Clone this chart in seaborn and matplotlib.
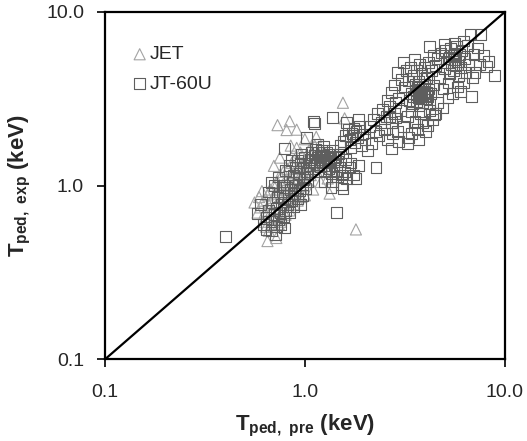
import numpy as np
import pandas as pd
import matplotlib
matplotlib.use('Agg')
import matplotlib.pyplot as plt
from matplotlib.ticker import NullLocator
import seaborn as sns

# (T_ped,pre, T_ped,exp) in keV
jet_points = [
    (0.60, 0.75), (0.62, 0.82), (0.63, 0.70), (0.65, 0.88), (0.66, 0.78),
    (0.67, 0.95), (0.68, 0.72), (0.69, 0.85), (0.70, 1.00), (0.70, 0.66),
    (0.71, 0.90), (0.72, 0.78), (0.73, 1.05), (0.74, 0.95), (0.75, 0.85),
    (0.75, 1.15), (0.76, 0.70), (0.77, 1.00), (0.78, 0.90), (0.78, 1.20),
    (0.79, 0.80), (0.80, 1.08), (0.81, 0.95), (0.82, 1.25), (0.83, 0.85),
    (0.84, 1.10), (0.85, 1.00), (0.86, 1.35), (0.87, 0.90), (0.88, 1.18),
    (0.89, 1.05), (0.90, 1.45), (0.91, 0.95), (0.92, 1.25), (0.93, 1.10),
    (0.95, 1.55), (0.96, 1.00), (0.97, 1.30), (0.98, 1.15), (1.00, 1.40),
    (1.02, 1.05), (1.04, 1.25), (1.05, 1.60), (1.07, 1.15), (1.10, 1.35),
    (1.12, 1.70), (1.15, 1.20), (1.18, 1.45), (1.22, 1.30), (1.25, 1.55),
    (0.62, 0.62), (0.64, 0.58), (0.66, 0.55), (0.68, 0.60), (0.70, 0.58),
    (0.72, 0.64), (0.74, 0.60), (0.76, 0.62), (0.80, 0.68), (0.84, 0.72),
    (0.88, 0.78), (0.92, 0.82), (0.96, 0.86), (1.00, 0.88), (0.58, 0.70),
    (0.56, 0.80), (0.59, 0.86), (0.61, 0.93), (0.65, 0.48), (0.72, 0.50),
    (0.73, 2.23), (0.84, 2.35), (0.81, 2.09), (0.91, 2.10), (1.55, 3.00),
    (1.80, 0.56), (1.33, 0.90), (0.91, 1.65), (1.14, 1.91), (1.58, 2.44),
    (1.00, 1.85), (0.70, 1.30), (0.75, 1.45), (0.85, 1.70), (1.20, 1.05),
    (1.10, 0.95), (1.40, 1.20), (1.30, 1.10),
]

jt60u_points = [
    # low-temperature band
    (0.58, 0.69), (0.62, 0.60), (0.60, 0.78), (0.64, 0.66), (0.66, 0.72),
    (0.68, 0.62), (0.69, 0.80), (0.70, 0.68), (0.72, 0.58), (0.72, 0.74),
    (0.73, 0.86), (0.74, 0.64), (0.75, 0.70), (0.76, 0.78), (0.77, 0.92),
    (0.78, 0.66), (0.79, 0.84), (0.80, 0.72), (0.81, 0.98), (0.82, 0.78),
    (0.83, 0.88), (0.84, 0.70), (0.85, 0.95), (0.86, 0.82), (0.87, 1.05),
    (0.88, 0.76), (0.89, 0.90), (0.90, 1.00), (0.92, 0.84), (0.93, 1.10),
    (0.94, 0.94), (0.95, 0.78), (0.97, 1.02), (0.98, 0.88), (1.00, 1.12),
    (1.01, 0.96), (1.03, 1.05), (0.66, 0.92), (0.70, 1.00), (0.74, 1.12),
    (0.68, 0.55), (0.64, 0.56), (0.76, 0.60), (0.79, 0.57), (0.71, 0.52),
    (0.68, 1.04), (0.78, 1.01), (0.40, 0.51),
    (0.88, 1.15), (0.90, 1.28), (0.92, 1.40), (0.94, 1.18), (0.96, 1.52),
    (0.99, 1.08), (1.03, 1.18), (0.86, 1.40), (0.80, 1.22), (0.84, 1.30),
    (0.79, 1.64), (1.02, 1.90), (1.10, 2.34), (1.12, 2.28), (1.38, 2.47),
    # dense group around 1.2 keV
    (1.05, 1.30), (1.07, 1.42), (1.08, 1.55), (1.10, 1.25), (1.11, 1.38),
    (1.12, 1.50), (1.13, 1.62), (1.14, 1.32), (1.15, 1.45), (1.16, 1.20),
    (1.17, 1.55), (1.18, 1.38), (1.19, 1.48), (1.20, 1.28), (1.21, 1.60),
    (1.22, 1.42), (1.23, 1.35), (1.24, 1.50), (1.25, 1.22), (1.26, 1.45),
    (1.27, 1.38), (1.28, 1.56), (1.29, 1.30), (1.30, 1.48), (1.31, 1.40),
    (1.32, 1.25), (1.33, 1.52), (1.34, 1.35), (1.35, 1.44), (1.36, 1.18),
    (1.38, 1.60), (1.40, 1.30), (1.42, 1.45), (1.44, 1.22), (1.46, 1.38),
    (1.48, 1.52), (1.50, 1.28), (1.52, 1.15), (1.24, 1.68), (1.16, 1.72),
    (1.02, 1.20), (0.98, 1.28), (1.00, 1.45), (0.95, 1.35),
    (1.38, 1.05), (1.45, 1.12), (1.52, 1.02), (1.58, 1.20), (1.62, 1.10),
    (1.68, 1.28), (1.75, 1.15), (1.80, 1.10), (1.55, 0.96), (1.25, 1.05),
    (1.35, 0.98), (2.27, 1.27), (1.44, 0.70), (1.85, 1.30), (1.70, 1.35),
    (1.60, 1.42), (1.55, 1.55),
    # group around 1.7 keV
    (1.55, 1.80), (1.60, 1.95), (1.65, 2.10), (1.68, 1.85), (1.72, 2.00),
    (1.74, 1.95), (1.76, 2.15), (1.78, 1.78), (1.80, 2.05), (1.84, 1.90),
    (1.88, 2.20), (1.92, 1.70), (1.95, 1.98), (2.00, 1.85), (1.62, 2.30),
    (1.70, 1.65), (1.85, 2.40), (2.05, 1.60), (1.50, 1.70),
    (2.10, 2.20), (2.20, 2.40), (2.25, 2.05), (2.30, 2.60), (2.40, 2.30),
    (2.45, 2.75), (2.50, 2.10), (2.55, 2.50), (2.60, 1.85), (2.65, 2.85),
    (2.70, 1.64), (2.72, 2.30), (2.80, 2.60), (2.85, 3.00), (2.35, 1.95),
    (2.15, 1.75), (2.90, 2.05),
    # dense group around 3.8 keV
    (3.35, 3.10), (3.40, 3.40), (3.45, 2.95), (3.50, 3.25), (3.55, 3.55),
    (3.60, 3.05), (3.62, 3.35), (3.65, 3.70), (3.68, 3.20), (3.70, 3.45),
    (3.72, 2.90), (3.75, 3.30), (3.78, 3.60), (3.80, 3.15), (3.82, 3.40),
    (3.85, 3.25), (3.88, 3.75), (3.90, 3.00), (3.92, 3.50), (3.95, 3.30),
    (3.98, 3.85), (4.00, 3.15), (4.05, 3.45), (4.10, 3.25), (4.15, 3.60),
    (4.20, 2.95), (4.25, 3.40), (3.58, 3.85),
    (2.60, 3.10), (2.70, 3.45), (2.75, 2.00), (2.80, 3.80), (2.85, 2.45),
    (2.90, 4.50), (2.95, 3.20), (3.00, 2.70), (3.05, 4.10), (3.10, 5.10),
    (3.12, 2.20), (3.15, 3.70), (3.20, 4.60), (3.25, 2.50), (3.30, 1.90),
    (3.30, 4.00), (3.38, 4.80), (3.42, 2.65), (3.48, 4.30), (3.52, 5.30),
    (3.55, 2.35), (3.60, 4.60), (3.65, 2.10), (3.70, 4.00), (3.75, 5.00),
    (3.80, 2.60), (3.85, 4.40), (3.90, 2.30), (3.95, 4.80), (4.00, 2.05),
    (4.05, 4.20), (4.10, 2.23), (4.15, 5.10), (4.20, 2.70), (4.30, 4.60),
    (4.35, 2.40), (4.40, 3.80), (4.45, 2.55), (4.50, 2.60), (3.25, 1.75),
    (2.95, 1.80), (3.70, 1.85), (3.40, 2.00), (2.65, 2.50), (4.19, 6.35),
    # high-temperature group
    (4.50, 4.90), (4.60, 5.40), (4.70, 4.20), (4.80, 5.80), (4.90, 3.60),
    (5.00, 4.70), (5.05, 6.00), (5.10, 5.10), (5.20, 3.90), (5.25, 5.50),
    (5.30, 4.40), (5.35, 6.20), (5.40, 5.00), (5.45, 3.40), (5.50, 5.60),
    (5.55, 4.60), (5.60, 5.30), (5.62, 5.80), (5.65, 4.90), (5.70, 5.50),
    (5.75, 6.30), (5.80, 3.70), (5.85, 5.20), (5.90, 4.30), (5.95, 5.70),
    (6.00, 4.80), (6.10, 6.00), (6.20, 3.90), (6.30, 5.40), (6.40, 4.50),
    (6.50, 6.40), (6.60, 5.00), (6.80, 3.25), (6.90, 4.20), (7.00, 5.70),
    (4.60, 3.00), (4.90, 2.80), (5.20, 3.20), (6.00, 3.50), (5.60, 6.60),
    (6.20, 6.80), (4.40, 5.60), (5.00, 6.50),
    (6.70, 7.40), (7.60, 7.40), (8.85, 4.30), (8.10, 4.85), (7.50, 5.00),
    (7.30, 6.20), (7.80, 5.60), (8.30, 5.20), (7.10, 4.50),
]

axis_ticks = [0.1, 1.0, 10.0]
tick_labels = ['0.1', '1.0', '10.0']

jet = pd.DataFrame(jet_points, columns=['pre', 'exp'])
jt60u = pd.DataFrame(jt60u_points, columns=['pre', 'exp'])

sns.set_style('ticks')
plt.rcParams['font.family'] = ['Liberation Sans', 'DejaVu Sans']
plt.rcParams['mathtext.fontset'] = 'custom'
plt.rcParams['mathtext.rm'] = 'Liberation Sans'
plt.rcParams['mathtext.bf'] = 'Liberation Sans:bold'

fig = plt.figure(figsize=(5.27, 4.41), dpi=100)
ax = fig.add_axes([0.199, 0.185, 0.759, 0.788])

sns.scatterplot(data=jet, x='pre', y='exp', marker='^', s=64,
                facecolor='none', edgecolor='#a3a3a3', linewidth=0.8,
                label='JET', ax=ax)
sns.scatterplot(data=jt60u, x='pre', y='exp', marker='s', s=60,
                facecolor='none', edgecolor='#5e5e5e', linewidth=0.8,
                label='JT-60U', ax=ax)
ax.plot([axis_ticks[0], axis_ticks[-1]], [axis_ticks[0], axis_ticks[-1]],
        color='black', lw=1.6, zorder=3)

ax.set_xscale('log')
ax.set_yscale('log')
ax.set_xlim(axis_ticks[0], axis_ticks[-1])
ax.set_ylim(axis_ticks[0], axis_ticks[-1])
ax.set_xticks(axis_ticks)
ax.set_xticklabels(tick_labels)
ax.set_yticks(axis_ticks)
ax.set_yticklabels(tick_labels)
ax.xaxis.set_minor_locator(NullLocator())
ax.yaxis.set_minor_locator(NullLocator())
ax.tick_params(axis='both', direction='out', length=6, width=1.2,
               labelsize=14, color='black')
ax.tick_params(axis='x', pad=12)
ax.tick_params(axis='y', pad=9)
for sp in ax.spines.values():
    sp.set_visible(True)
    sp.set_linewidth(1.6)
    sp.set_color('black')

ax.set_xlabel(r'T$_{\mathbf{ped,\ pre}}$ (keV)', fontsize=16, fontweight='bold')
ax.set_ylabel(r'T$_{\mathbf{ped,\ exp}}$ (keV)', fontsize=16, fontweight='bold')
ax.xaxis.set_label_coords(0.5, -0.155)
ax.yaxis.set_label_coords(-0.18, 0.5)

ax.legend(loc='upper left', bbox_to_anchor=(0.053, 0.925), frameon=False,
          fontsize=14, handletextpad=0.2, labelspacing=0.6,
          borderaxespad=0, handlelength=0.6)

fig.savefig('out.png', dpi=100)
